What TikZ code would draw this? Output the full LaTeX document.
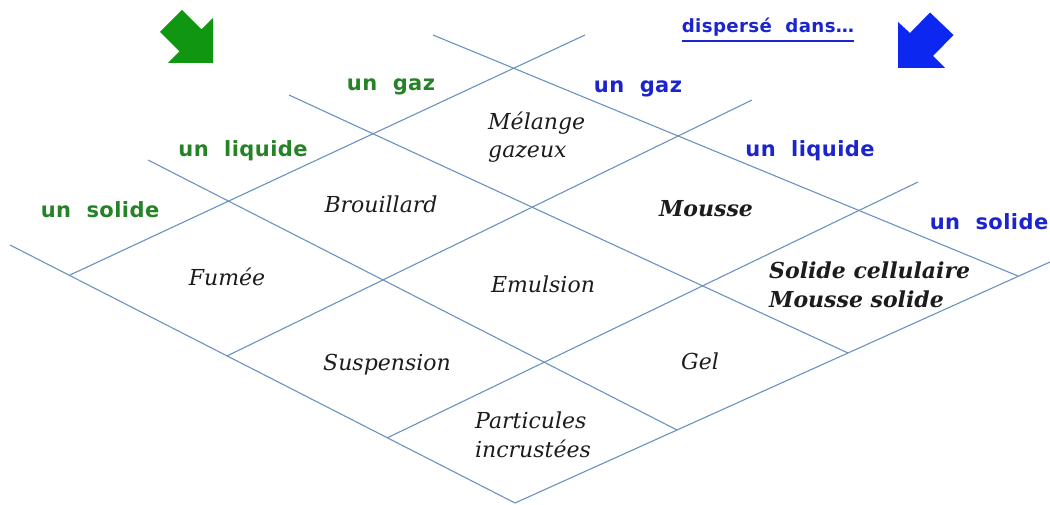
\documentclass[tikz,border=0pt]{standalone}
\usepackage{fontspec}
\newfontfamily\cellfont{DejaVu Serif}
\newfontfamily\labfont[LetterSpace=2,WordSpace=2]{DejaVu Sans}
\definecolor{gridc}{RGB}{108,146,192}
\definecolor{lgreen}{RGB}{38,130,38}
\definecolor{lblue}{RGB}{28,36,205}
\definecolor{agreen}{RGB}{16,150,16}
\definecolor{ablue}{RGB}{12,40,240}
\definecolor{celltxt}{RGB}{28,28,28}
\begin{document}
\begin{tikzpicture}[x=1pt,y=-1pt,
  gridline/.style={draw=gridc, line width=1.1pt},
  cell/.style={font=\cellfont\fontsize{22}{28.5}\selectfont\itshape, text=celltxt, inner sep=0pt, anchor=base},
  cellb/.style={cell, font=\cellfont\fontsize{22}{28.5}\selectfont\bfseries\itshape},
  glab/.style={font=\labfont\fontsize{21}{25}\selectfont\bfseries, text=lgreen, inner sep=0pt, anchor=base},
  blab/.style={glab, text=lblue}
]
\fill[white] (0,0) rectangle (1050,505);
\useasboundingbox (0,0) rectangle (1050,505);

% grid end points
\coordinate (a1s) at (433,35);
\coordinate (a2s) at (289,95);
\coordinate (a3s) at (148,160);
\coordinate (a4s) at (10,245);
\coordinate (a1e) at (1018,276);
\coordinate (a2e) at (848,353);
\coordinate (a3e) at (677,430);
\coordinate (a4e) at (515,503);
\coordinate (b1s) at (70,275);
\coordinate (b2s) at (227,356);
\coordinate (b3s) at (387,438);
\coordinate (b1e) at (585,35);
\coordinate (b2e) at (752,100);
\coordinate (b3e) at (918,182);
\coordinate (b4e) at (1050,262);

\draw[gridline] (a1s) -- (a1e);
\draw[gridline] (a2s) -- (a2e);
\draw[gridline] (a3s) -- (a3e);
\draw[gridline] (a4s) -- (a4e);
\draw[gridline] (b1s) -- (b1e);
\draw[gridline] (b2s) -- (b2e);
\draw[gridline] (b3s) -- (b3e);
\draw[gridline] (a4e) -- (b4e);

% arrows
\fill[agreen] (182,10) -- (201.5,29.5) -- (213,18) -- (213,63) -- (168,63) -- (179.5,51.5) -- (160,32) -- cycle;
\fill[ablue] (930,12.5) -- (910,33) -- (898,22) -- (898,68) -- (945,68) -- (933,56) -- (953.5,35) -- cycle;

% labels
\node[glab] (gg) at (391,91) {un gaz};
\node[glab] (gl) at (243,157) {un liquide};
\node[glab] (gs) at (100,218) {un solide};
\node[blab] (bg) at (638,93) {un gaz};
\node[blab] (bl) at (810,157) {un liquide};
\node[blab] (bs) at (989,230) {un solide};
\node[blab, font=\labfont\fontsize{18.2}{22}\selectfont\bfseries] (disp) at (768,33) {dispersé dans…};
\draw[lblue, line width=1.3pt] ([yshift=-8pt]disp.base west) -- ([yshift=-8pt]disp.base east);

% cells
\node[cell, anchor=base west, align=left] (melange) at (488,158) {Mélange\\gazeux};
\node[cell] (brouillard) at (381,213) {Brouillard};
\node[cellb] (mousse) at (706,217) {Mousse};
\node[cell] (fumee) at (227,286) {Fumée};
\node[cell] (emulsion) at (543,293) {Emulsion};
\node[cellb, anchor=base west, align=left] (solcell) at (769,307) {Solide cellulaire\\Mousse solide};
\node[cell] (suspension) at (387,370) {Suspension};
\node[cell] (gel) at (700,369) {Gel};
\node[cell, anchor=base west, align=left] (particules) at (475,457) {Particules\\incrustées};
\end{tikzpicture}
\end{document}
